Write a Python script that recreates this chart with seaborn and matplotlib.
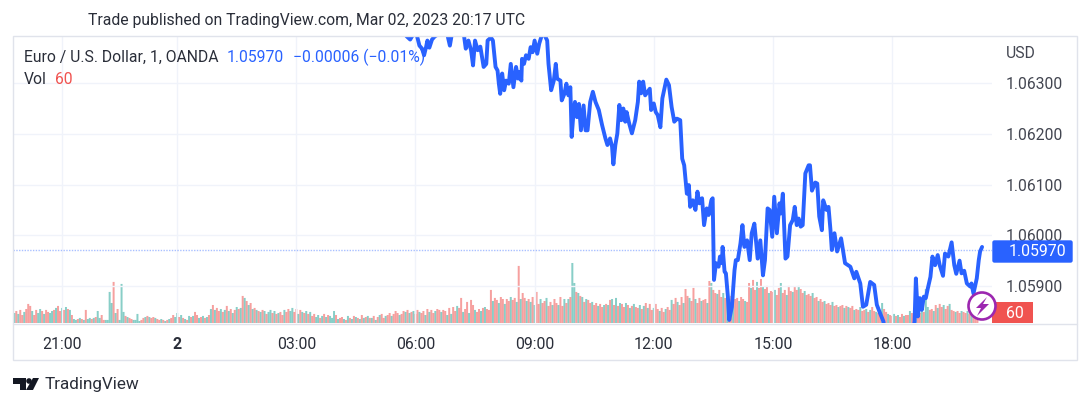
import numpy as np
import pandas as pd
import matplotlib
matplotlib.use('Agg')
import matplotlib.pyplot as plt
from matplotlib.patches import Rectangle, Circle, Polygon, FancyBboxPatch
import seaborn as sns

# Price line, minutes from midnight (bar position) and close
line_minute = [341, 347, 352, 356, 362, 366, 370, 373, 376, 378, 381, 385, 389, 395, 408, 412, 415, 433, 436, 440,
               444, 447, 450, 454, 458, 463, 467, 469, 474, 477, 481, 484, 486, 488, 491, 494, 497, 501, 504, 508,
               512, 515, 517, 520, 521, 524, 527, 531, 534, 537, 540, 544, 547, 551, 555, 559, 561, 565, 569, 572,
               574, 579, 581, 585, 588, 591, 594, 596, 599, 601, 604, 607, 610, 614, 617, 620, 624, 628, 632, 637,
               642, 647, 650, 654, 657, 659, 662, 665, 668, 671, 674, 677, 679, 683, 687, 692, 696, 698, 701, 704,
               707, 714, 716, 720, 723, 726, 730, 733, 739, 743, 747, 751, 755, 760, 763, 766, 770, 773, 775, 779,
               783, 786, 789, 793, 796, 800, 803, 807, 809, 811, 814, 818, 820, 823, 824, 827, 829, 832, 834, 838,
               842, 844, 847, 851, 854, 857, 861, 865, 868, 872, 877, 881, 885, 888, 892, 895, 899, 902, 906, 910,
               912, 915, 919, 922, 926, 930, 933, 936, 939, 942, 945, 949, 954, 956, 959, 964, 967, 970, 974, 976,
               981, 984, 987, 989, 993, 997, 1003, 1009, 1017, 1023, 1026, 1032, 1036, 1041, 1047, 1053, 1057, 1062, 1067, 1070,
               1110, 1114, 1116, 1119, 1122, 1125, 1128, 1131, 1134, 1138, 1141, 1145, 1149, 1152, 1157, 1160, 1165, 1170, 1174, 1177,
               1182, 1185, 1189, 1193, 1198, 1200, 1203, 1208, 1211, 1213, 1216]
line_price = [1.06401, 1.06392, 1.06386, 1.06395, 1.06395, 1.06374, 1.06368, 1.06355, 1.06371, 1.06384, 1.06370, 1.06386, 1.06392, 1.06397, 1.06397, 1.06374, 1.06397, 1.06397, 1.06368, 1.06384,
              1.06365, 1.06335, 1.06384, 1.06365, 1.06372, 1.06332, 1.06338, 1.06384, 1.06390, 1.06384, 1.06332, 1.06325, 1.06299, 1.06279, 1.06319, 1.06286, 1.06305, 1.06299, 1.06338, 1.06292,
              1.06332, 1.06309, 1.06322, 1.06305, 1.06348, 1.06338, 1.06355, 1.06348, 1.06371, 1.06361, 1.06384, 1.06358, 1.06378, 1.06395, 1.06395, 1.06384, 1.06338, 1.06286, 1.06305, 1.06338,
              1.06309, 1.06305, 1.06266, 1.06279, 1.06299, 1.06276, 1.06292, 1.06194, 1.06246, 1.06263, 1.06233, 1.06259, 1.06207, 1.06256, 1.06207, 1.06207, 1.06263, 1.06283, 1.06263, 1.06247,
              1.06217, 1.06191, 1.06178, 1.06191, 1.06175, 1.06140, 1.06178, 1.06201, 1.06257, 1.06227, 1.06250, 1.06224, 1.06243, 1.06220, 1.06201, 1.06227, 1.06263, 1.06303, 1.06280, 1.06303,
              1.06276, 1.06289, 1.06247, 1.06260, 1.06243, 1.06237, 1.06213, 1.06270, 1.06307, 1.06296, 1.06253, 1.06224, 1.06230, 1.06227, 1.06151, 1.06138, 1.06082, 1.06099, 1.06056, 1.06069,
              1.06050, 1.06086, 1.06063, 1.06073, 1.06020, 1.06053, 1.06040, 1.06069, 1.06073, 1.05912, 1.05945, 1.05938, 1.05958, 1.05945, 1.05977, 1.05928, 1.05925, 1.05879, 1.05833, 1.05859,
              1.05931, 1.05951, 1.05951, 1.05984, 1.06020, 1.05977, 1.05990, 1.05951, 1.06004, 1.06023, 1.05954, 1.05990, 1.05921, 1.05951, 1.06053, 1.06050, 1.05997, 1.06076, 1.06004, 1.06063,
              1.06043, 1.06082, 1.05954, 1.05958, 1.06020, 1.06030, 1.06056, 1.06020, 1.06033, 1.06017, 1.06020, 1.06122, 1.06138, 1.06138, 1.06088, 1.06104, 1.06102, 1.06037, 1.06010, 1.06069,
              1.06050, 1.06056, 1.06010, 1.05971, 1.06004, 1.05968, 1.05994, 1.05945, 1.05938, 1.05915, 1.05928, 1.05905, 1.05859, 1.05863, 1.05908, 1.05902, 1.05863, 1.05846, 1.05830, 1.05800,
              1.05800, 1.05830, 1.05915, 1.05840, 1.05876, 1.05853, 1.05879, 1.05876, 1.05895, 1.05918, 1.05958, 1.05941, 1.05961, 1.05941, 1.05920, 1.05964, 1.05958, 1.05986, 1.05941, 1.05924,
              1.05950, 1.05925, 1.05930, 1.05905, 1.05899, 1.05905, 1.05885, 1.05915, 1.05951, 1.05968, 1.05977]

# Volume, one value per 3 bars, negative means a down bar
vol_signed = [75, -90, 68, -98, -60, 83, -105, -143, -128, 90, -60, -98, 75, 105, -90, 68, -98, -83, 75, 90,
              -98, 113, -128, -90, 113, -98, 120, -105, 98, -60, 30, 23, -30, 38, -30, 23, -98, 30, 38, -30,
              38, -45, 90, 38, -60, -23, 23, 23, 233, 150, -308, 75, -105, 23, 293, 83, -53, 45, -38, -30,
              23, 23, 68, 15, -23, -38, 45, -53, 45, -38, -45, 38, -30, -23, 30, -23, 15, -23, 30, -38,
              -60, 45, 75, -45, 60, -38, 30, -23, 53, -45, 53, -83, -60, 38, -45, 53, -38, 45, -60, 105,
              -135, 98, -113, -90, 105, -83, 98, -128, 90, -105, 75, -98, 120, -105, 113, -203, 188, -165, 135, -150,
              105, -113, 98, -90, 83, -98, 90, -68, 83, 98, -75, 90, -68, 75, -83, -60, 98, -83, -105, 90,
              113, -83, -105, 68, -98, 83, -75, 90, -68, 83, -53, -68, 45, 60, -38, 53, -68, 45, -60, 53,
              38, 90, -60, 30, -38, -45, 30, -23, 53, -38, 30, -53, 45, -38, 30, -60, 38, -45, 53, -38,
              38, -53, 23, -45, 60, -68, -38, 53, -60, -75, 53, -68, -90, -75, 60, -68, -90, 83, -98, 75,
              -83, 90, -68, -98, 83, -75, -90, 60, -105, 83, -98, -75, 90, -105, -98, 83, -98, -90, 60, -113,
              68, -120, -90, 128, -113, -188, 83, -105, -158, 75, -173, -135, 98, -83, -105, 90, -113, 120, -105, -98,
              -248, 165, -188, -173, 150, -195, -180, 143, -180, -165, 195, -173, -188, 158, -428, 180, -225, -188, 165, -180,
              158, -195, 135, -233, -143, 180, -150, -165, 188, -128, -158, 135, -180, -150, 135, -195, -128, 180, -150, 180,
              -195, 450, 300, -233, 225, -203, 195, -158, 180, -173, -150, 158, -135, -150, 128, -143, -120, 135, -143, 135,
              -173, 180, -135, 188, -128, 150, -143, -120, 150, -135, 113, -128, 143, -120, -113, 135, -105, 128, -150, 113,
              -143, -98, 113, -143, -105, 90, -113, -83, 105, -120, -98, 173, -143, -188, 158, -135, -195, 150, -255, -203,
              188, -165, -263, 180, -150, -188, 165, -173, -180, 150, -315, 300, -248, -225, 218, -248, -195, 225, -188, 218,
              -180, -203, 248, -180, -188, 165, -195, -180, 165, -158, -300, 263, -323, -248, 308, -263, -330, 270, -255, -278,
              225, -240, -233, 248, -210, -263, 300, -225, -248, 210, -278, -240, 233, -270, -248, 278, -255, -225, 240, -210,
              -218, -203, 225, -188, -195, 165, -180, -158, 165, -143, -150, -135, 158, -128, -135, 120, -128, -135, 113, -128,
              120, -113, -128, 98, -105, -98, 120, -90, -98, 105, -83, 98, -120, -90, 83, -75, -90, 150, -105, -83,
              68, -60, -53, 68, -53, 60, -45, -68, 53, -60, -60, 90, -75, -68, 90, -83, -75, 90, -83, 255,
              120, -98, -105, 90, -135, 113, -143, -120, 135, -105, -128, 143, -98, -90, 83, -90, -75, 90, -83, -75,
              90, -68, 60, -53, -45, -60]
bar_minute = np.arange(len(vol_signed)) * 3 - 246

tick_minutes = [-174, 0, 180, 360, 540, 720, 900, 1080]
tick_names = ['21:00', '2', '03:00', '06:00', '09:00', '12:00', '15:00', '18:00']
price_ticks = [1.059, 1.060, 1.061, 1.062, 1.063]
last_price = 1.0597

BLUE = '#2962FF'
TEXT = '#2A2E39'
GRID = '#F0F3FA'
FRAME = '#E0E3EB'

sns.set_style('white')
plt.rcParams['font.family'] = ['Roboto', 'DejaVu Sans']

W, H = 1090, 407
fig = plt.figure(figsize=(W / 100, H / 100), dpi=100)
ax = fig.add_axes([13 / W, (H - 323) / H, 979 / W, 287 / H])
ax_vol = ax.twinx()

# Volume bars behind the price line
bars = pd.DataFrame({'minute': bar_minute, 'vol': np.abs(vol_signed),
                     'side': ['down' if v < 0 else 'up' for v in vol_signed]})
sns.barplot(data=bars, x='minute', y='vol', hue='side', native_scale=True, dodge=False,
            palette={'up': '#26A69A', 'down': '#EF5350'}, alpha=0.55, width=1.0, saturation=1,
            errorbar=None, linewidth=0, legend=False, ax=ax_vol)
for p in ax_vol.patches:
    p.set_snap(False)
ax_vol.set_ylim(0, 2152)
ax_vol.axis('off')

ax.set_zorder(ax_vol.get_zorder() + 1)
ax.patch.set_visible(False)
fig.patch.set_facecolor('white')

sns.lineplot(x=line_minute, y=line_price, sort=False, estimator=None, color=BLUE,
             linewidth=2.8, ax=ax, zorder=5)
ax.axhline(last_price, color=BLUE, linewidth=1, linestyle=(0, (1, 1)), alpha=0.4, zorder=1)

ax.set_xlim(-248, 1231)
ax_vol.set_xlim(-248, 1231)
ax.set_ylim(1.05827, 1.06393)
ax.set_xlabel('')
ax.set_ylabel('')
ax.set_xticks(tick_minutes)
ax.set_xticklabels(tick_names, fontsize=11.4, color=TEXT)
ax.get_xticklabels()[1].set_fontweight('bold')
ax.yaxis.tick_right()
ax.set_yticks(price_ticks)
ax.set_yticklabels(['%.5f' % p for p in price_ticks], fontsize=11.3, color='#434651')
ax.tick_params(axis='x', length=0, pad=10)
ax.tick_params(axis='y', length=0, pad=10)
ax.grid(True, color=GRID, linewidth=1)
for s in ax.spines.values():
    s.set_visible(False)

# Chrome drawn in pixel coordinates on a transparent overlay
over = fig.add_axes([0, 0, 1, 1], zorder=10)
over.set_xlim(0, W)
over.set_ylim(H, 0)
over.axis('off')
over.add_patch(Rectangle((13, 36), 1064, 324, fill=False, edgecolor=FRAME, linewidth=1))
over.plot([13, 1077], [323.5, 323.5], color=FRAME, linewidth=1)

over.text(88, 21, 'Trade published on TradingView.com, Mar 02, 2023 20:17 UTC', fontsize=11.3,
          color=TEXT, va='center')
over.text(24, 57, 'Euro / U.S. Dollar, 1, OANDA', fontsize=11.3, color=TEXT, va='center')
over.text(227, 57, '1.05970', fontsize=11.3, color=BLUE, va='center')
over.text(293, 57, '\u22120.00006 (\u22120.01%)', fontsize=11.3, color=BLUE, va='center')
over.text(24, 79, 'Vol', fontsize=11.3, color=TEXT, va='center')
over.text(55, 79, '60', fontsize=11.3, color='#F05350', va='center')
over.text(1006, 54, 'USD', fontsize=11.3, color='#434651', va='center')

# last value labels
over.add_patch(FancyBboxPatch((993, 241), 79, 21, boxstyle='round,pad=0,rounding_size=1.5',
                              facecolor=BLUE, edgecolor=BLUE, linewidth=1))
over.text(1009, 252, '1.05970', fontsize=11.4, color='white', va='center')
over.add_patch(Rectangle((992, 302), 41, 21, facecolor='#F05350', edgecolor='none'))
over.text(1015, 313, '60', fontsize=11.4, color='white', va='center', ha='center')

# lightning badge
over.add_patch(Circle((982, 306), 13.5, facecolor='white', edgecolor='#9C27B0', linewidth=1.9))
over.add_patch(Polygon([(987, 297), (976, 308), (981, 308), (977, 316), (989, 304), (983, 304)],
                       facecolor='#9C27B0', edgecolor='none'))

# TradingView logo
over.add_patch(Polygon([(13, 378), (26, 378), (26, 390), (20, 390), (20, 384), (13, 384)],
                       facecolor='#131722', edgecolor='none'))
over.add_patch(Circle((29, 381), 2.8, facecolor='#131722', edgecolor='none'))
over.add_patch(Polygon([(33, 378), (39, 378), (33, 390), (26, 390)], facecolor='#131722', edgecolor='none'))
over.text(45, 385, 'TradingView', fontsize=12.3, color=TEXT, va='center')

fig.savefig('out.png', dpi=100)
plt.close(fig)
